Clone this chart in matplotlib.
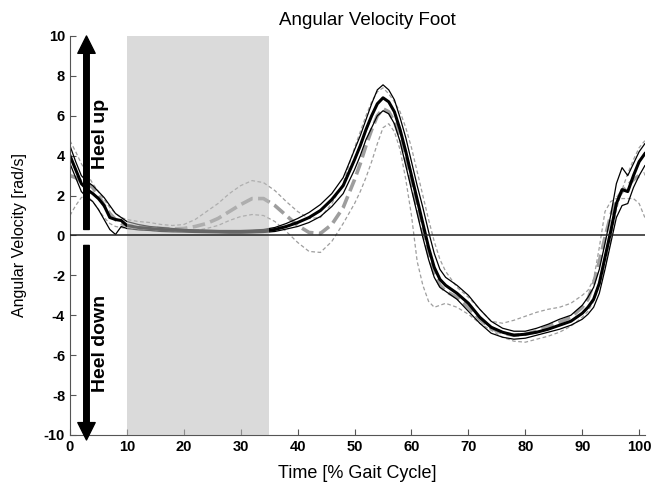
import numpy as np
import matplotlib
matplotlib.use('Agg')
import matplotlib.pyplot as plt

plt.rcParams['font.family'] = ['Liberation Sans', 'DejaVu Sans']
plt.rcParams['axes.unicode_minus'] = False

# gait cycle sample points (%)
time_pct = [0, 1, 2, 3, 4, 5, 6, 7, 8, 9, 10, 12, 14, 16, 18, 20, 22, 24, 26, 28,
            30, 32, 34, 36, 38, 40, 42, 44, 46, 48, 50, 51, 52, 53, 54, 55, 56, 57, 58, 59,
            60, 61, 62, 63, 64, 65, 66, 68, 70, 72, 74, 76, 78, 80, 82, 84, 86, 88, 90, 91,
            92, 93, 94, 95, 96, 97, 98, 99, 100, 101]

# group 1 (black): mean and +/- SD
black_mean = [4.0, 3.3, 2.6, 2.3, 2.1, 1.85, 1.5, 0.9, 0.8, 0.75, 0.5, 0.4, 0.35, 0.3, 0.27, 0.25, 0.22, 0.2, 0.2, 0.18,
              0.18, 0.2, 0.22, 0.3, 0.45, 0.65, 0.9, 1.25, 1.8, 2.5, 3.8, 4.5, 5.3, 6.0, 6.6, 6.9, 6.7, 6.2, 5.3, 4.2,
              3.0, 1.8, 0.6, -0.6, -1.6, -2.2, -2.5, -2.9, -3.4, -4.1, -4.6, -4.85, -5.0, -4.95, -4.85, -4.7, -4.5, -4.3, -3.9, -3.6,
              -3.2, -2.4, -1.1, 0.2, 1.6, 2.3, 2.2, 3.0, 3.7, 4.1]
black_upper = [4.5, 3.7, 3.0, 2.7, 2.5, 2.2, 1.9, 1.5, 1.1, 0.9, 0.7, 0.55, 0.45, 0.4, 0.35, 0.3, 0.28, 0.27, 0.25, 0.25,
               0.25, 0.27, 0.3, 0.4, 0.6, 0.85, 1.15, 1.55, 2.1, 2.9, 4.3, 5.0, 5.8, 6.6, 7.3, 7.55, 7.3, 6.8, 5.9, 4.9,
               3.7, 2.5, 1.4, 0.2, -0.9, -1.7, -2.1, -2.5, -3.0, -3.7, -4.3, -4.65, -4.8, -4.8, -4.65, -4.45, -4.2, -4.0, -3.5, -3.1,
               -2.6, -1.7, -0.4, 1.0, 2.6, 3.4, 3.0, 3.6, 4.2, 4.6]
black_lower = [3.6, 2.9, 2.2, 1.9, 1.7, 1.3, 0.8, 0.3, 0.05, 0.45, 0.35, 0.28, 0.25, 0.2, 0.18, 0.17, 0.15, 0.14, 0.13, 0.12,
               0.12, 0.13, 0.15, 0.2, 0.32, 0.45, 0.65, 0.95, 1.45, 2.1, 3.3, 4.0, 4.8, 5.4, 6.0, 6.25, 6.1, 5.6, 4.7, 3.5,
               2.3, 1.1, -0.1, -1.2, -2.1, -2.6, -2.8, -3.2, -3.8, -4.4, -4.9, -5.1, -5.2, -5.15, -5.0, -4.85, -4.7, -4.5, -4.2, -3.95,
               -3.6, -2.9, -1.7, -0.4, 0.9, 1.5, 1.6, 2.4, 3.0, 3.5]

# group 2 (grey dashed): mean and +/- SD
grey_mean = [3.0, 2.9, 2.7, 2.6, 2.4, 2.0, 1.5, 1.1, 0.8, 0.6, 0.5, 0.42, 0.38, 0.35, 0.33, 0.35, 0.45, 0.6, 0.85, 1.2,
             1.55, 1.85, 1.85, 1.5, 1.0, 0.5, 0.15, 0.1, 0.55, 1.4, 2.8, 3.6, 4.5, 5.3, 6.0, 6.35, 6.2, 5.7, 4.9, 3.8,
             2.6, 1.4, 0.2, -0.9, -1.9, -2.5, -2.8, -3.1, -3.6, -4.2, -4.65, -4.9, -5.0, -4.95, -4.8, -4.55, -4.35, -4.1, -3.6, -3.2,
             -2.4, -1.3, -0.1, 1.0, 1.8, 2.2, 2.5, 2.8, 3.0, 3.1]
grey_upper = [4.75, 4.2, 3.6, 3.1, 2.6, 2.2, 1.8, 1.4, 1.1, 0.9, 0.8, 0.7, 0.65, 0.55, 0.5, 0.55, 0.8, 1.2, 1.6, 2.1,
              2.5, 2.75, 2.65, 2.25, 1.7, 1.2, 0.85, 0.9, 1.6, 2.6, 4.4, 5.2, 6.0, 6.7, 7.2, 7.4, 7.1, 6.7, 6.2, 5.4,
              4.4, 3.2, 2.0, 0.8, -0.3, -1.2, -1.8, -2.6, -3.1, -3.7, -4.3, -4.4, -4.25, -4.05, -3.85, -3.7, -3.6, -3.4, -3.0, -2.75,
              -2.2, -0.6, 1.2, 1.7, 1.85, 1.85, 1.85, 1.85, 1.6, 0.9]
grey_lower = [1.0, 1.5, 1.9, 2.0, 1.7, 1.3, 0.9, 0.6, 0.45, 0.4, 0.35, 0.3, 0.25, 0.22, 0.2, 0.2, 0.25, 0.35, 0.5, 0.75,
              0.95, 1.05, 1.0, 0.7, 0.2, -0.35, -0.8, -0.85, -0.3, 0.6, 1.6, 2.2, 2.9, 3.7, 4.6, 5.4, 5.6, 5.2, 4.3, 2.8,
              1.0, -1.3, -2.5, -3.3, -3.6, -3.5, -3.4, -3.6, -3.95, -4.4, -4.75, -5.1, -5.3, -5.35, -5.2, -5.05, -4.85, -4.55, -4.1, -3.8,
              -3.3, -2.5, -1.6, -0.2, 1.3, 2.3, 3.1, 3.8, 4.4, 4.75]

title = 'Angular Velocity Foot'
xlabel = 'Time [% Gait Cycle]'
ylabel = 'Angular Velocity [rad/s]'
shade_start, shade_end = 10, 35

fig = plt.figure(figsize=(6.54, 4.86), dpi=100)
ax = fig.add_axes([0.107, 0.105, 0.879, 0.821])

t = np.array(time_pct)
grey = '#9e9e9e'
ax.plot(t, grey_upper, '--', color=grey, lw=0.9, dashes=(3, 2))
ax.plot(t, grey_lower, '--', color=grey, lw=0.9, dashes=(3, 2))
ax.plot(t, grey_mean, '--', color=grey, lw=2.6, dashes=(3.5, 1.5))
ax.plot(t, black_upper, '-', color='k', lw=0.9)
ax.plot(t, black_lower, '-', color='k', lw=0.9)
ax.plot(t, black_mean, '-', color='k', lw=2.2)

# shaded phase drawn over the curves
ax.axvspan(shade_start, shade_end, color='#bcbcbc', alpha=0.55, lw=0, zorder=3)
ax.axhline(0, color='#222222', lw=1.1, zorder=4)

# heel up / heel down arrows
arrow_style = 'simple,head_width=1.25,head_length=1.25,tail_width=0.4'
ax.annotate('', xy=(2.9, 10), xytext=(2.9, 0.3),
            arrowprops=dict(arrowstyle=arrow_style, mutation_scale=10, color='k', shrinkA=0, shrinkB=0),
            annotation_clip=False, zorder=5)
ax.annotate('', xy=(2.9, -10.25), xytext=(2.9, -0.5),
            arrowprops=dict(arrowstyle=arrow_style, mutation_scale=10, color='k', shrinkA=0, shrinkB=0),
            annotation_clip=False, zorder=5)
ax.text(5.3, 5.1, 'Heel up', rotation=90, ha='center', va='center',
        fontsize=14, fontweight='bold', zorder=5)
ax.text(5.3, -5.4, 'Heel down', rotation=90, ha='center', va='center',
        fontsize=14, fontweight='bold', zorder=5)

ax.set_xlim(0, 101)
ax.set_ylim(-10, 10)
ax.set_xticks(range(0, 101, 10))
ax.set_yticks(range(-10, 11, 2))
for s in ['top', 'right']:
    ax.spines[s].set_visible(False)
for s in ['left', 'bottom']:
    ax.spines[s].set_color('#555555')
ax.tick_params(direction='in', length=4, color='#555555', labelsize=10.5)
for lab in ax.get_xticklabels() + ax.get_yticklabels():
    lab.set_fontweight('bold')

ax.set_title(title, fontsize=13.5, x=0.517, pad=8)
ax.set_xlabel(xlabel, fontsize=13)
ax.set_ylabel(ylabel, fontsize=11.5)
ax.xaxis.set_label_coords(0.5, -0.075)
ax.yaxis.set_label_coords(-0.075, 0.5)

fig.savefig('out.png', dpi=100)
